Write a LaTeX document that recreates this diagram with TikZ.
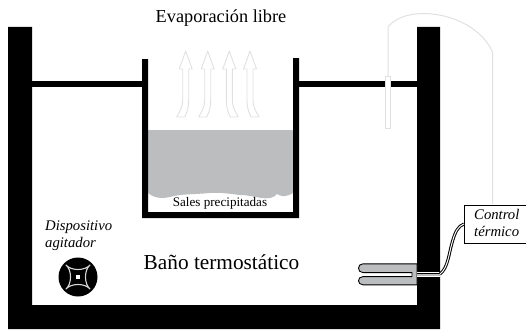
\documentclass[tikz,border=0pt]{standalone}
\usepackage{fontspec}
\setmainfont{Liberation Serif}
\definecolor{saltgray}{RGB}{187,189,191}
\definecolor{paleline}{RGB}{224,224,224}
\definecolor{stirline}{RGB}{215,215,215}
\tikzset{
  x=1pt,y=-1pt,
  solid wall/.style={fill=black,draw=none},
  pale/.style={draw=paleline,line width=1.2pt,fill=white,line join=round},
  pale thin/.style={draw=paleline,line width=1pt},
  label/.style={inner sep=0pt,align=left,font=\itshape\fontsize{14.7}{16.8}\selectfont},
  plain label/.style={inner sep=0pt,anchor=base},
  wire/.style={draw=black,line width=3pt},
  wire core/.style={draw=white,line width=1pt},
}
\begin{document}
\begin{tikzpicture}
\useasboundingbox (0,0) rectangle (526,329);
% bath walls
\fill[solid wall] (8,27) -- (32,27) -- (32,305) -- (417,305) -- (417,27) -- (440,27) -- (440,329) -- (8,329) -- cycle;
% lid
\fill[solid wall] (32,81) rectangle (143,87);
\fill[solid wall] (299,81) rectangle (417,87);
% salt solution
\fill[saltgray] (148,130) -- (293,130) -- (293,193)
  .. controls (286,197) and (282,197) .. (277,194)
  .. controls (274,198) and (268,199) .. (262,198)
  .. controls (254,197) and (248,195) .. (240,195)
  .. controls (230,194) and (220,192) .. (210,193)
  .. controls (200,194) and (190,194) .. (180,195)
  .. controls (172,196) and (168,198) .. (162,198)
  .. controls (156,198) and (152,196) .. (148,193) -- cycle;
% beaker
\fill[solid wall] (142,59) -- (148,59) -- (148,212) -- (293,212) -- (293,58) -- (299,58) -- (299,218) -- (142,218) -- cycle;
% evaporation arrows
\foreach \tipx/\bend in {185.7/-1,207.7/-1,229.3/1,250/1}{
  \begin{scope}[shift={(\tipx,0)},xscale=\bend]
    \draw[pale,fill=none,line width=0.9pt] (0,51) -- (6.5,69) -- (3,69) -- (3,100)
      .. controls (3,106) and (5,110) .. (9,117) -- (1,117)
      .. controls (-2,111) and (-3,106) .. (-3,100) -- (-3,69) -- (-6.5,69) -- cycle;
  \end{scope}
}
% thermometer probe
\coordinate (probetop) at (388,76);
\coordinate (boxtop) at (492.5,204);
\draw[pale thin] (probetop) -- (388,27) .. controls (396,17) and (410,13.5) .. (424,13.5)
  .. controls (455,14) and (483,30) .. (492.5,52) -- (boxtop);
\node[draw=paleline,line width=1pt,fill=white,minimum width=4.2pt,minimum height=52pt,inner sep=0pt,anchor=north] (probe) at (388,76) {};
% heater
\draw[black,fill=saltgray,line width=0.9pt,line join=round] (417,263.8) -- (363,263.8)
  .. controls (357,263.8) and (357,272.6) .. (363,272.6) -- (412,272.6) -- (412,276.6) -- (363,276.6)
  .. controls (357,276.6) and (357,284.8) .. (363,284.8) -- (417,284.8) -- cycle;
\fill[saltgray] (417,273.5) rectangle (440,275.8);
\draw[white,line width=0.8pt] (417,272.6) -- (440,272.6);
\draw[white,line width=0.8pt] (417,276.4) -- (440,276.4);
% control box and wire
\node[draw=black,line width=0.9pt,fill=white,minimum width=61.5pt,minimum height=38pt,inner sep=0pt,anchor=north west] (box) at (464,204.5) {};
\coordinate (wirestart) at (440,274);
\draw[wire] (wirestart) .. controls (448,268) and (449,253) .. (452,243) .. controls (455,232) and (458,226) .. (box.west);
\draw[wire core] (wirestart) .. controls (448,268) and (449,253) .. (452,243) .. controls (455,232) and (458,226) .. (box.west);
% stirrer
\fill[black] (78,277) circle (19.5);
\draw[stirline,line width=1.1pt,line join=round] (66,265) .. controls (71,271) and (85,271) .. (90,265)
  .. controls (84,270) and (84,284) .. (90,289)
  .. controls (85,283) and (71,283) .. (66,289)
  .. controls (72,284) and (72,270) .. (66,265) -- cycle;
\fill[white] (76,275) rectangle (80,279);
% labels
\node[plain label,font=\fontsize{18.3}{20}\selectfont] (evap) at (221,23) {Evaporación libre};
\node[plain label,font=\fontsize{21.3}{24}\selectfont] (bano) at (221.5,269) {Baño termostático};
\node[plain label,font=\fontsize{13.1}{15}\selectfont] (sales) at (220,206.7) {Sales precipitadas};
\node[label,anchor=north west] (disp) at (45,220.5) {Dispositivo\\agitador};
\node[label,anchor=north west] (ctrl) at (474,209.5) {Control\\térmico};
\end{tikzpicture}
\end{document}
